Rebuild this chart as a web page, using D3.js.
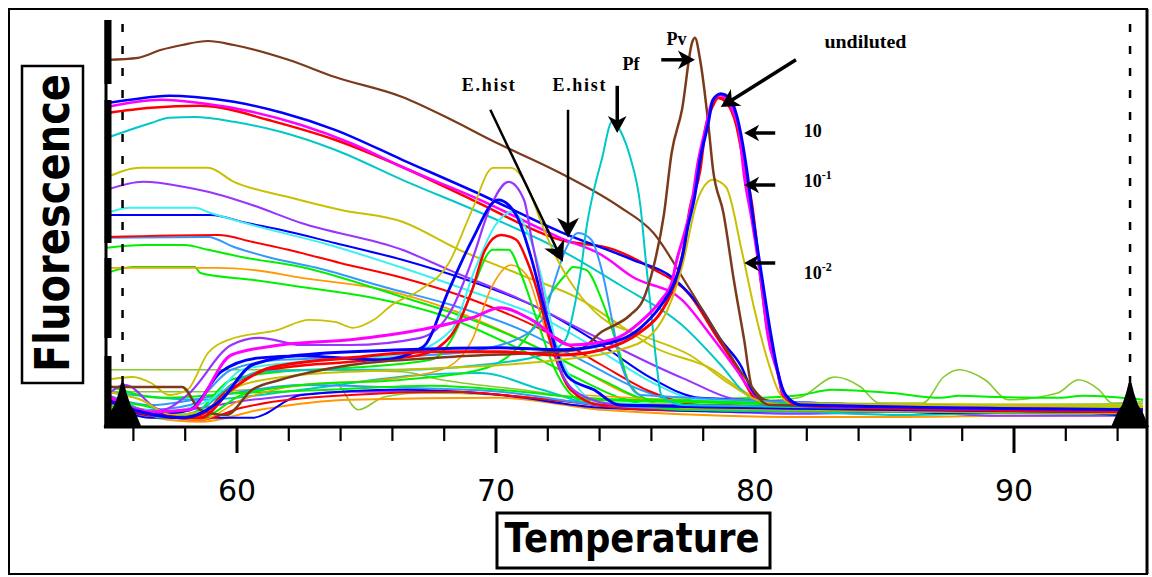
<!DOCTYPE html>
<html>
<head>
<meta charset="utf-8">
<script src="https://cdn.jsdelivr.net/npm/d3@7/dist/d3.min.js"></script>
<style>
  body { margin: 0; background: #fff; }
  svg { display: block; }
</style>
</head>
<body>
<svg id="chart" width="1152" height="577"></svg>
<script>
// ---- melt curves (raw fluorescence), [temperature, fluorescence] ----
var brownMelt = [[55,91.8],[56.2,92.3],[57.1,94.3],[57.9,95.5],[58.9,96.5],[59.9,95.5],[62,91.8],[63.8,87.5],[66.4,82.5],[68.3,76.8],[69.8,71.8],[72.5,63.5],[74.8,55],[76.1,48.5],[77.4,35.5],[78.7,21.8],[79.7,11.8],[80.4,6.8],[81.8,5.5],[95,4.3]];
var blueMelt = [[55,81],[55.9,81.8],[57.4,82.8],[58.4,82.5],[59.9,81.3],[61.8,78.5],[63.8,74.3],[66.4,66.8],[69.3,58.5],[72.5,48.8],[75.3,41.8],[76.8,37.5],[77.9,30],[78.7,21.8],[79.5,15],[79.9,9.3],[80.6,6],[95,4.8]];
var magentaMelt = [[55,80],[57.1,81.8],[58.6,81],[60.6,78.8],[62.5,75.5],[64.4,71],[66.4,65],[69.4,56.8],[72.5,47.3],[74.1,43],[75.3,37.5],[77.2,31.8],[78.3,23],[79.3,14.3],[79.9,8.8],[80.6,5.5],[95,4.3]];
var redMelt = [[55,78.5],[56.7,79.8],[58.6,80.3],[59.4,79.8],[61.2,76.8],[63.8,71.8],[66.4,65],[69.1,56.8],[72.5,46.8],[74.6,44.3],[76,39.8],[77.5,33],[78.5,23],[79.4,13.8],[79.9,8],[80.6,5],[95,3.8]];
var tealMelt = [[55,72.3],[55.9,74.3],[56.7,76],[57.4,77.3],[58.4,77.5],[59.9,76.3],[61.7,73.8],[63.8,69.3],[66.4,61.8],[69.8,52.5],[72.5,44.3],[74.8,35.5],[77.2,25.5],[78.7,15.5],[79.7,8],[80.6,5.5],[95,4.3]];
var oliveMelt = [[55,62.5],[56.3,64.8],[58.9,64.8],[59.9,61.3],[62,57.5],[64,54.3],[66.4,51.3],[68.6,44.3],[71,38],[73.3,31.8],[74.8,25.5],[76.1,20],[78.4,14.3],[79.5,9.3],[80.6,6],[95,5.3]];
var purpleMelt = [[55,59.3],[56.4,61.3],[58,60],[58.9,58.8],[60.6,55.5],[62.5,51],[66.4,44.3],[68.2,39.3],[71,31.8],[74.1,21.8],[77.2,12.3],[79.5,6.8],[95,4.3]];
var lightCyanMelt = [[55,53.5],[55.9,54.8],[58.4,54.8],[59,53.5],[60.6,50.5],[63.6,45.5],[66.4,39.8],[69.1,33.8],[71.8,27.3],[74.1,18.8],[76,11.3],[77.9,6.8],[95,4.8]];
var blue2Melt = [[55,53],[59,53],[60.4,51],[61.7,49.3],[63.8,46],[66.4,41.8],[69.1,36.3],[71.8,29.3],[74.1,20.5],[76,12.3],[77.9,7.3],[95,4.3]];
var red2Melt = [[55,47.5],[59.3,48],[60.6,46.3],[62,44.3],[64,41],[66.4,37.3],[69.1,31.8],[71.8,24.3],[74.1,15.5],[76,8.8],[77.9,5.5],[95,4.3]];
var lightBlueMelt = [[55,47.3],[58.9,47.5],[59.9,45],[61.2,42.5],[63.1,39.8],[65.7,35],[68.3,30.5],[71,24.3],[73.3,16.8],[75.6,9.3],[77.9,5.5],[95,4]];
var green1Melt = [[55,44.8],[56.4,45.5],[58,45.5],[58.9,44.3],[60.2,42.5],[62.5,40],[66.4,32.5],[69.1,26.8],[71.8,19.3],[74.1,11.8],[76,6.8],[95,4.3]];
var orangeMelt = [[55,39.8],[59.3,39.8],[60.6,39.3],[62.5,37.3],[65.7,34.3],[68.3,29.3],[71,21.8],[73.3,14.3],[75.2,8],[77.2,4.8],[95,3.5]];
var green2Melt = [[55,38.5],[56,40],[58.4,40],[58.6,38.5],[60.6,36.8],[62.5,35],[65.1,32.5],[67.9,28],[70.6,20.5],[72.9,13],[74.8,7.3],[77.2,4.3],[95,3.3]];

// ---- derivative curves with melting peaks ----
var oliveEhist = [[55,11.8],[56,12.5],[56.7,11],[57.4,8],[58.1,9.3],[58.9,18.5],[59.7,21.8],[61.6,24.3],[62.8,26.8],[63.8,26.3],[64.5,24.8],[65.3,26.8],[66,30.5],[67.1,34.3],[68.2,41],[69.1,54.3],[69.9,64.8],[70.6,64.8],[71.2,60.5],[71.8,50.5],[72.3,43],[73.1,34.3],[74.1,27.3],[75.6,23],[77.5,18],[79.1,10.5],[80.3,6.3],[81.8,5.3],[95,5.3]];
var purpleEhist = [[55,8],[55.7,10.5],[57.1,4.3],[58.1,8],[59.8,20.5],[60.9,22.3],[62.5,20.5],[64.4,20.5],[67.1,22.3],[68.3,29.3],[69.1,41.8],[69.8,55],[70.5,61.3],[71.1,56.8],[71.4,46.8],[71.8,34.3],[72.1,24.3],[72.5,14.3],[73.3,8],[74.8,5.5],[95,4.3]];
var blueEhist = [[55,6.8],[56.7,3],[58.2,4.3],[59.4,13.8],[60.9,17.3],[62.5,17.8],[65.6,16.8],[67.2,20],[68.2,34.3],[69.1,46.8],[70.1,56.8],[70.8,53],[71.4,41.8],[72,26.8],[72.8,12.5],[73.8,9.3],[74.8,5.5],[95,3.8]];
var redEhist = [[55,8],[56.3,4.3],[57.5,2.3],[58.6,3],[59.8,10.5],[61.3,14.3],[64.4,16.3],[67.1,18],[68.3,23],[69.1,34.3],[69.6,44.3],[70.2,48],[70.8,46.8],[71.2,41.8],[71.6,34.3],[72.1,21.8],[72.9,9.3],[74.1,5.5],[95,4.3]];
var greenEhist = [[55,6.8],[56.3,5.5],[58.2,3],[59.8,11.8],[61.7,13.8],[64.4,14.8],[67.5,16.8],[68.5,24.3],[69.1,34.3],[69.9,44.3],[70.5,44.3],[71,38],[71.6,26.8],[72.3,14.3],[73.3,6.8],[95,4.8]];
var orangeEhist = [[55,5.5],[56.7,3.8],[58.6,1.8],[60.2,6.8],[62.5,10.5],[65.6,11.8],[67.9,14.3],[69.1,21.8],[69.8,34.3],[70.6,40.5],[71.2,38],[71.8,26.8],[72.5,14.3],[73.3,8],[95,3.8]];
var lightCyanEhist = [[55,7.3],[57.1,3.8],[59,6.8],[60.2,14.3],[62.5,16.3],[66.4,18],[68.3,24.3],[69.2,39.3],[70,50.5],[70.6,53.8],[71.2,49.3],[71.8,36.8],[72.3,21.8],[73.1,10.5],[74.1,6],[95,4]];
var lightBlueEhist2 = [[55,6.8],[56.7,4.3],[58.2,5.5],[59.8,14.3],[61.7,16.8],[64.4,17.3],[67.5,18],[70.2,20.5],[71.8,26.8],[72.3,36.8],[72.7,44.3],[73.2,48.5],[73.7,46.8],[74.1,39.3],[74.5,26.8],[74.8,16.8],[75.6,8],[95,4.3]];
var greenEhist2 = [[55,5.5],[56.7,3],[58.6,2.3],[60.2,8],[62.5,10.5],[66.4,11.8],[69.4,14.3],[71.4,24.3],[72.1,33],[72.7,38],[73,40],[73.5,39.3],[74.1,31.8],[74.7,20.5],[75.2,10.5],[76,6.8],[95,4.8]];
var tealPf = [[55,8],[55.9,5.5],[57.1,2.3],[58.6,4.3],[59.8,10.5],[60.9,13.8],[63.6,14.3],[66.4,14.3],[69.4,15.5],[71.8,18],[72.7,21.8],[73.1,31.8],[73.3,39.3],[73.5,49.3],[73.8,59.3],[74.1,66.8],[74.5,76.3],[74.9,73],[75.2,67.5],[75.6,55],[75.8,41.8],[76,29.3],[76.2,16.8],[76.4,8],[77.2,5.5],[95,4.3]];
var brownPv = [[55,10],[57.9,10],[58.6,4.3],[59.6,3],[60.6,9.3],[61.7,11.8],[64.4,15.5],[68.2,17.5],[73.2,19.3],[74.1,23.8],[75.2,28],[75.7,31.8],[76.1,40],[76.5,53],[76.8,68.5],[77.2,79.3],[77.6,96.3],[77.7,97.3],[77.9,91.8],[78.2,76.8],[78.4,64.3],[78.8,53.5],[79.2,36.8],[79.6,21.8],[79.9,10],[80.6,5.5],[95,4.3]];
var olive10m1 = [[55,8.8],[56.3,6.8],[57.5,3],[58.6,3.8],[60.2,10.5],[62.5,13],[66.4,14.3],[70.2,15.5],[72.5,16.8],[74.8,19.3],[76,23],[76.8,31.8],[77.2,40],[77.8,56.8],[78.4,61.8],[78.9,60],[79.5,44.3],[80,29.3],[80.5,16.8],[80.9,9.3],[81.4,6],[95,5]];
var magentaUnd = [[55,8],[56.7,3.8],[58.2,4.3],[59.8,18],[61.7,20.5],[64.4,21.8],[67.1,24.3],[69.1,27.3],[70.2,29.8],[71.4,26.8],[72.9,20.5],[74.5,21.8],[75.6,26.3],[76.4,31.8],[76.8,36],[77,41.8],[77.3,48.5],[77.6,56.8],[77.8,65.5],[78.1,74.3],[78.4,81.8],[78.7,83],[79,81],[79.4,74.3],[79.6,63],[79.9,51.8],[80.3,34.3],[80.5,23.5],[80.9,13.5],[81.1,8.5],[81.8,5.5],[95,4.3]];
var blueUnd = [[55,6.8],[56.3,3.8],[57.9,2.3],[59.4,6.8],[60.6,15.5],[62.5,18],[66.4,19.3],[70.2,19.8],[72.5,19.3],[74.1,20.5],[75.6,24.8],[76.4,30.5],[76.9,36],[77.2,42.3],[77.4,49.3],[77.7,58],[77.9,66.8],[78.2,75.5],[78.4,81.8],[78.7,83.3],[79,82.5],[79.4,75.5],[79.7,64.3],[79.9,54.3],[80.3,36.8],[80.6,24.3],[80.9,13.8],[81.2,8],[81.8,5.5],[95,4.3]];
var redUnd = [[55,7.3],[56.7,3],[58.6,2.3],[59.8,9.3],[61.3,14.8],[64.4,17.3],[67.5,18.8],[70.2,18.8],[72.5,18],[74.1,19.3],[75.6,23.8],[76.4,28.8],[76.9,35.5],[77.3,45.5],[77.5,54.3],[77.9,64.3],[78.1,74.3],[78.4,80.5],[78.6,82.3],[78.9,81.3],[79.3,75.5],[79.6,65.5],[79.9,55.5],[80.2,39.3],[80.5,24.3],[80.9,13.8],[81.1,8],[81.8,5.3],[95,3.8]];

// ---- baseline / negative samples ----
var yellowGreen1 = [[55,14.3],[62.5,14.3],[66.4,13.8],[67.9,11.8],[71,9.3],[73.3,7.3],[77.9,6.3],[81,6.8],[81.8,7.5],[83.1,12.5],[84.1,10],[84.8,6],[86.5,6],[87.3,12.5],[87.9,14.3],[88.9,11.8],[89.8,6.8],[91.7,8.5],[92.5,11.8],[93.3,9.3],[93.8,6],[95,6.3]];
var yellowGreen2 = [[55,8.8],[58.6,8.8],[62.5,10.3],[63.8,11],[64.7,4.3],[65.7,7.5],[67.1,8.5],[70.2,8],[74.1,6],[81.8,5.5],[95,5.8]];
var greenBase = [[55,10.5],[57.1,7.3],[60.2,8.5],[63.6,9.3],[67.5,10.3],[71,8.8],[73.3,7.3],[75.6,6.8],[80.3,7.3],[81.8,8],[83,9.3],[85.3,8.5],[87.2,7.3],[87.9,7.8],[89.4,7.5],[91.8,7.3],[92.7,7.8],[95,6.8]];
var cyanBase = [[55,8.8],[58.6,6.8],[62.5,9.3],[67.1,13],[69.4,13.5],[71.8,9.3],[74.1,5.3],[77.9,4.3],[81.8,3.8],[85.7,3],[89.5,3.5],[93.4,3.3],[95,3.3]];
var purpleBase = [[55,6.8],[57.1,3.8],[60.6,6.8],[64.4,8.8],[68.3,8.8],[72.1,6.8],[76,4.8],[81.8,3.3],[85.7,3.8],[89.5,2.8],[95,2.8]];
var orangeBase = [[55,4.8],[58.6,1.3],[60.9,4.3],[64.4,6.8],[70.2,7.3],[74.1,4.3],[81.8,2.5],[85.7,2.5],[89.5,2.8],[95,3]];
var blueBase = [[55,6],[56.7,2.3],[60.6,2.3],[62.5,8],[66.4,9.3],[70.2,8],[74.1,4.8],[79.9,3.8],[83.7,4.3],[87.6,3.5],[91.4,4],[95,2.3]];
var redBase = [[55,6.8],[58.6,1.8],[60.2,4.8],[64.4,8],[68.3,8.8],[72.1,6.8],[76,4.3],[81.8,4.8],[85.7,4.3],[89.5,4.5],[95,3.8]];
var lightBlueBase = [[55,8],[56.7,5.5],[59.4,8],[62.5,10.5],[66.4,9.8],[70.2,8.8],[74.1,5.5],[81.8,3.8],[85.7,4.5],[89.5,4],[95,3.5]];

// ---- axis ticks, cursors, annotations ----
var minorTicks = [56, 58, 62, 64, 66, 68, 72, 74, 76, 78, 82, 84, 86, 88, 92, 94];
var majorTicks = [60, 70, 80, 90];
var cursorTemps = [55.6, 94.5];

var labelTexts = ["E.hist", "E.hist", "Pf", "Pv", "undiluted", "10", "10", "10"];
var labelSups  = ["", "", "", "", "", "", "-1", "-2"];
var labelT = [68.7, 72.2, 74.9, 76.6, 82.7, 81.9, 81.9, 81.9];
var labelF = [84, 84, 89.3, 95.5, 94.8, 72.5, 60, 37];

var arrowFrom = [[69.8,79.3],[72.8,79.3],[74.7,85.3],[76.4,91.8],[81.6,91.8],[80.8,73.5],[80.8,60.5],[80.8,41]];
var arrowTo   = [[72.6,41.3],[72.8,47.3],[74.7,73.5],[77.7,91.8],[78.7,80],[79.6,73.5],[79.6,60.5],[79.6,41]];
var arrowHead = [20, 20, 17, 17, 18, 15, 15, 15];

// colours
var BROWN = "#7b3a1a", BLUE = "#0000ff", MAGENTA = "#ff00ff", RED = "#ff0000",
    TEAL = "#00c8c8", OLIVE = "#c8c000", PURPLE = "#9933ff", LCYAN = "#3ef0f0",
    LBLUE = "#3399ff", GREEN = "#00f000", ORANGE = "#ff9900", YGREEN = "#88c830";

var series = [
  {data: yellowGreen1, color: YGREEN, w: 1.6},
  {data: yellowGreen2, color: YGREEN, w: 1.6},
  {data: orangeBase, color: ORANGE, w: 2},
  {data: purpleBase, color: PURPLE, w: 2},
  {data: cyanBase, color: TEAL, w: 2},
  {data: blueBase, color: BLUE, w: 2},
  {data: redBase, color: RED, w: 2},
  {data: lightBlueBase, color: LBLUE, w: 2},
  {data: greenBase, color: GREEN, w: 2},

  {data: green2Melt, color: GREEN, w: 2},
  {data: orangeMelt, color: ORANGE, w: 1.8},
  {data: green1Melt, color: GREEN, w: 2},
  {data: lightBlueMelt, color: LBLUE, w: 2},
  {data: red2Melt, color: RED, w: 2},
  {data: blue2Melt, color: BLUE, w: 2},
  {data: lightCyanMelt, color: LCYAN, w: 2},
  {data: purpleMelt, color: PURPLE, w: 2},
  {data: oliveMelt, color: OLIVE, w: 2},
  {data: tealMelt, color: TEAL, w: 2},
  {data: redMelt, color: RED, w: 2.5},
  {data: magentaMelt, color: MAGENTA, w: 2.5},
  {data: blueMelt, color: BLUE, w: 2.5},
  {data: brownMelt, color: BROWN, w: 2.2},

  {data: orangeEhist, color: ORANGE, w: 1.6},
  {data: greenEhist2, color: GREEN, w: 2},
  {data: lightBlueEhist2, color: LBLUE, w: 2},
  {data: greenEhist, color: GREEN, w: 2},
  {data: lightCyanEhist, color: LCYAN, w: 2},
  {data: redEhist, color: RED, w: 2.5},
  {data: oliveEhist, color: OLIVE, w: 1.8},
  {data: purpleEhist, color: PURPLE, w: 2.2},
  {data: blueEhist, color: BLUE, w: 2.8},
  {data: tealPf, color: TEAL, w: 2},
  {data: olive10m1, color: OLIVE, w: 2},
  {data: brownPv, color: BROWN, w: 2.5},
  {data: redUnd, color: RED, w: 3},
  {data: magentaUnd, color: MAGENTA, w: 3},
  {data: blueUnd, color: BLUE, w: 3}
];

var svg = d3.select("#chart");

var x = d3.scaleLinear().domain([55, 95]).range([107, 1143]);
var y = d3.scaleLinear().domain([0, 100]).range([427, 27]);

// outer frame
svg.append("rect")
    .attr("x", 9).attr("y", 9)
    .attr("width", 1138).attr("height", 565)
    .attr("fill", "none")
    .attr("stroke", "#000")
    .attr("stroke-width", 2);
svg.append("line")
    .attr("x1", 1147).attr("x2", 1147)
    .attr("y1", 9).attr("y2", 574)
    .attr("stroke", "#000").attr("stroke-width", 3);

// curves
var line = d3.line()
    .x(function(d) { return x(d[0]); })
    .y(function(d) { return y(d[1]); })
    .curve(d3.curveMonotoneX);

var g_lines = svg.append("g");
g_lines.selectAll("path")
    .data(series)
    .enter().append("path")
    .attr("d", function(s) { return line(s.data); })
    .attr("fill", "none")
    .attr("stroke", function(s) { return s.color; })
    .attr("stroke-width", function(s) { return s.w; })
    .attr("stroke-linejoin", "round");

// dashed cursor lines
svg.selectAll(".cursor")
    .data(cursorTemps)
    .enter().append("line")
    .attr("class", "cursor")
    .attr("x1", function(d) { return x(d); })
    .attr("x2", function(d) { return x(d); })
    .attr("y1", 24).attr("y2", y(0))
    .attr("stroke", "#000")
    .attr("stroke-width", 2.5)
    .attr("stroke-dasharray", "8,14");

// black stepped markers at the cursor bases
svg.selectAll(".marker")
    .data(cursorTemps)
    .enter().append("path")
    .attr("class", "marker")
    .attr("d", function(d) {
        var cx = x(d), b = y(0);
        return "M" + (cx - 19) + "," + b +
               "L" + (cx - 13) + "," + (b - 14) +
               "L" + (cx - 8) + "," + (b - 22) +
               "L" + (cx - 4) + "," + (b - 34) +
               "L" + (cx - 1.5) + "," + (b - 44) +
               "L" + (cx + 1.5) + "," + (b - 44) +
               "L" + (cx + 4) + "," + (b - 34) +
               "L" + (cx + 8) + "," + (b - 22) +
               "L" + (cx + 13) + "," + (b - 14) +
               "L" + (cx + 19) + "," + b + "Z";
    })
    .attr("fill", "#000");

// left axis: thick bar with a few breaks
var barSegments = [[20, 84], [100, 243], [258, 338], [356, 427]];
svg.append("line")
    .attr("x1", 106).attr("x2", 106)
    .attr("y1", 20).attr("y2", 427)
    .attr("stroke", "#000").attr("stroke-width", 3);
svg.selectAll(".ybar")
    .data(barSegments)
    .enter().append("line")
    .attr("class", "ybar")
    .attr("x1", 108).attr("x2", 108)
    .attr("y1", function(d) { return d[0]; })
    .attr("y2", function(d) { return d[1]; })
    .attr("stroke", "#000").attr("stroke-width", 7);

// bottom axis
svg.append("line")
    .attr("x1", 104).attr("x2", 1147)
    .attr("y1", y(0)).attr("y2", y(0))
    .attr("stroke", "#000").attr("stroke-width", 3);

var minorAxis = svg.append("g")
    .attr("transform", "translate(0," + y(0) + ")")
    .call(d3.axisBottom(x).tickValues(minorTicks).tickSize(14).tickFormat(""));
minorAxis.select(".domain").remove();
minorAxis.selectAll("line").attr("stroke-width", 2.2);

var majorAxis = svg.append("g")
    .attr("transform", "translate(0," + y(0) + ")")
    .call(d3.axisBottom(x).tickValues(majorTicks).tickSize(26).tickPadding(27).tickFormat(d3.format("d")));
majorAxis.select(".domain").remove();
majorAxis.selectAll("line").attr("stroke-width", 3);
majorAxis.selectAll("text")
    .attr("font-family", "DejaVu Sans")
    .attr("font-size", 30)
    .attr("fill", "#000");

// axis titles in boxes
svg.append("rect")
    .attr("x", 497).attr("y", 513)
    .attr("width", 273).attr("height", 55)
    .attr("fill", "#fff").attr("stroke", "#000").attr("stroke-width", 3);
svg.append("text")
    .attr("x", 632).attr("y", 552)
    .attr("text-anchor", "middle")
    .attr("font-family", "DejaVu Sans")
    .attr("font-weight", "bold")
    .attr("font-size", 40)
    .attr("textLength", 255)
    .attr("lengthAdjust", "spacingAndGlyphs")
    .text("Temperature");

svg.append("rect")
    .attr("x", 22).attr("y", 66)
    .attr("width", 61).attr("height", 317)
    .attr("fill", "#fff").attr("stroke", "#000").attr("stroke-width", 2.5);
svg.append("text")
    .attr("transform", "translate(69,223) rotate(-90)")
    .attr("text-anchor", "middle")
    .attr("font-family", "DejaVu Sans")
    .attr("font-weight", "bold")
    .attr("font-size", 48)
    .attr("textLength", 298)
    .attr("lengthAdjust", "spacingAndGlyphs")
    .text("Fluorescence");

// annotation arrows
var g_arrows = svg.append("g");
arrowFrom.forEach(function(a, i) {
    var x1 = x(a[0]), y1 = y(a[1]);
    var x2 = x(arrowTo[i][0]), y2 = y(arrowTo[i][1]);
    var ang = Math.atan2(y2 - y1, x2 - x1);
    var len = arrowHead[i], hw = arrowHead[i] * 0.55;
    var c = Math.cos(ang), s = Math.sin(ang);
    var bx = x2 - len * c, by = y2 - len * s;
    g_arrows.append("line")
        .attr("x1", x1).attr("y1", y1)
        .attr("x2", x2 - 0.6 * len * c).attr("y2", y2 - 0.6 * len * s)
        .attr("stroke", "#000").attr("stroke-width", i < 2 ? 2.5 : 3.5);
    g_arrows.append("path")
        .attr("d", "M" + x2 + "," + y2 +
                   "L" + (bx + hw * s) + "," + (by - hw * c) +
                   "L" + (x2 - 0.72 * len * c) + "," + (y2 - 0.72 * len * s) +
                   "L" + (bx - hw * s) + "," + (by + hw * c) + "Z")
        .attr("fill", "#000");
});

// annotation labels
var g_labels = svg.append("g")
    .attr("font-family", "Liberation Serif")
    .attr("font-weight", "bold")
    .attr("font-size", 18);
labelTexts.forEach(function(t, i) {
    var txt = g_labels.append("text")
        .attr("x", x(labelT[i]))
        .attr("y", y(labelF[i]))
        .text(t);
    if (t === "E.hist") txt.attr("textLength", 53).attr("lengthAdjust", "spacing");
    if (t === "undiluted") txt.attr("textLength", 82).attr("lengthAdjust", "spacingAndGlyphs");
    if (labelSups[i]) {
        txt.append("tspan")
            .attr("dy", -8)
            .attr("font-size", 12)
            .text(labelSups[i]);
    }
});
</script>
</body>
</html>
